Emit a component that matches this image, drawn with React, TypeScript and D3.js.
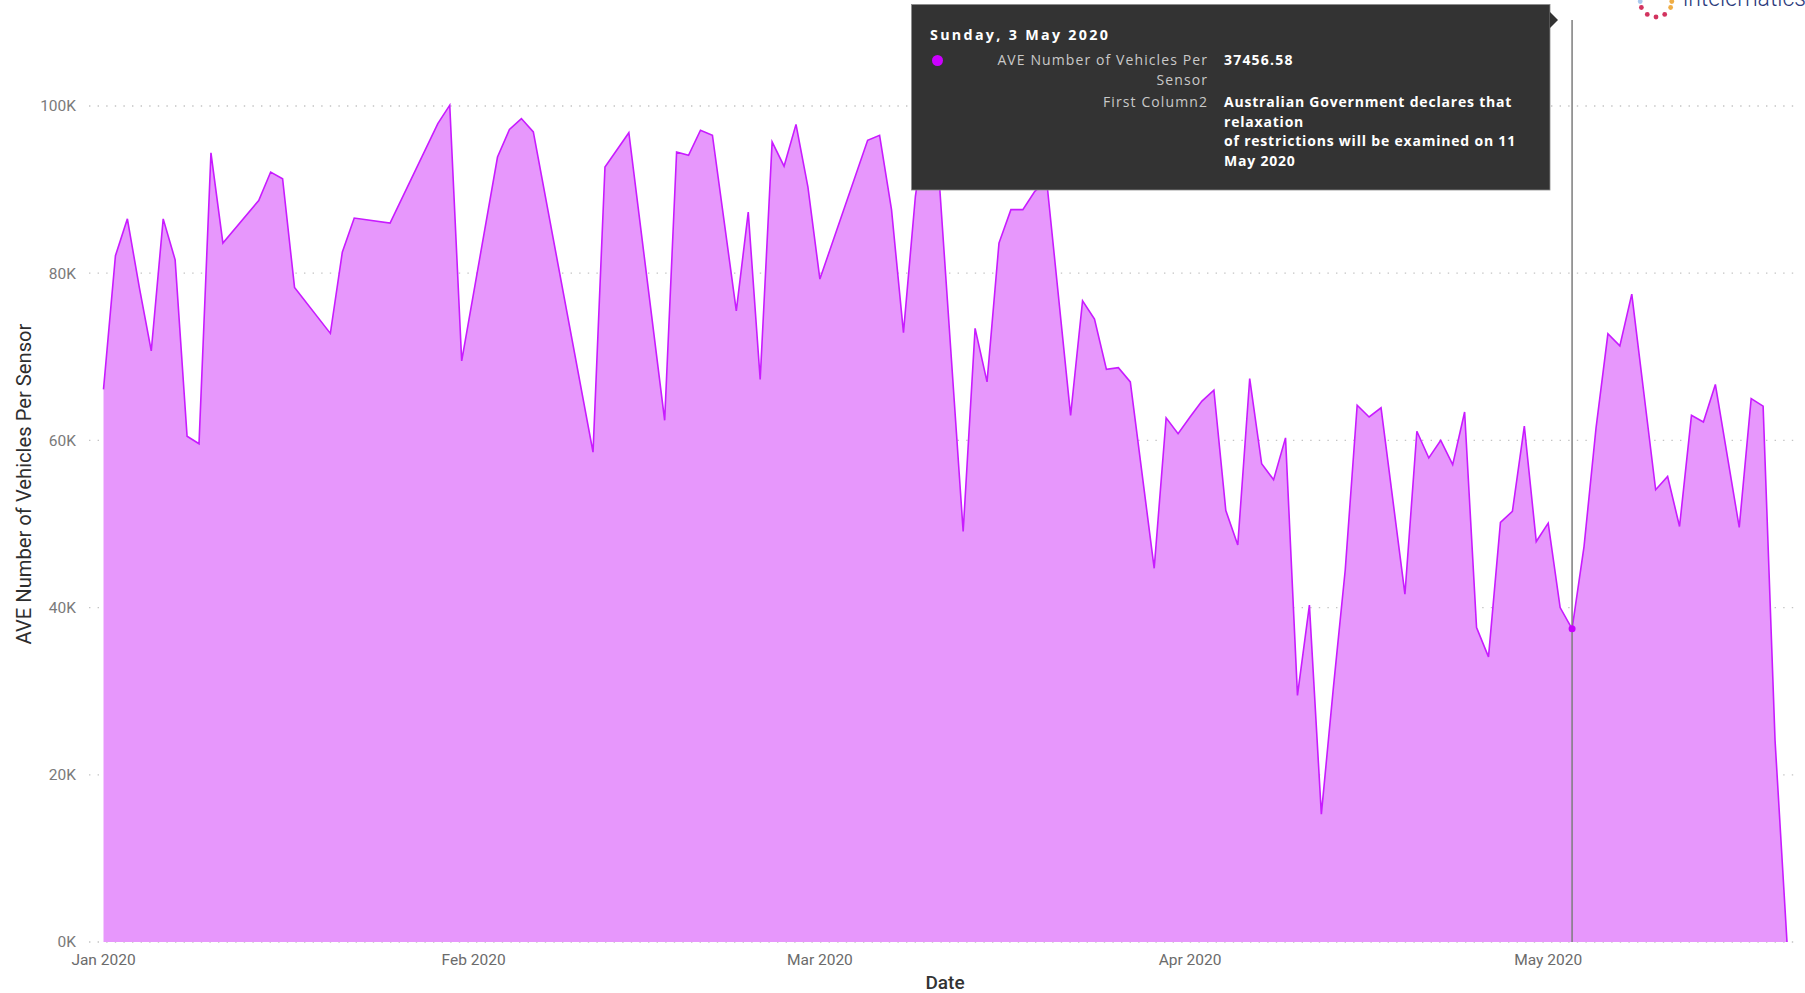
import { useEffect, useRef } from "react";
import * as d3 from "d3";

// daily averages, days with no reading are simply absent (the area joins across them)
const dates = [
  "2020-01-01", "2020-01-02", "2020-01-03", "2020-01-04", "2020-01-05", "2020-01-06", "2020-01-07",
  "2020-01-08", "2020-01-09", "2020-01-10", "2020-01-11", "2020-01-14", "2020-01-15", "2020-01-16",
  "2020-01-17", "2020-01-20", "2020-01-21", "2020-01-22", "2020-01-25", "2020-01-29", "2020-01-30",
  "2020-01-31", "2020-02-03", "2020-02-04", "2020-02-05", "2020-02-06", "2020-02-11", "2020-02-12",
  "2020-02-14", "2020-02-17", "2020-02-18", "2020-02-19", "2020-02-20", "2020-02-21", "2020-02-23",
  "2020-02-24", "2020-02-25", "2020-02-26", "2020-02-27", "2020-02-28", "2020-02-29", "2020-03-01",
  "2020-03-05", "2020-03-06", "2020-03-07", "2020-03-08", "2020-03-09", "2020-03-10", "2020-03-11",
  "2020-03-13", "2020-03-14", "2020-03-15", "2020-03-16", "2020-03-17", "2020-03-18", "2020-03-19",
  "2020-03-20", "2020-03-22", "2020-03-23", "2020-03-24", "2020-03-25", "2020-03-26", "2020-03-27",
  "2020-03-29", "2020-03-30", "2020-03-31", "2020-04-01", "2020-04-02", "2020-04-03", "2020-04-04",
  "2020-04-05", "2020-04-06", "2020-04-07", "2020-04-08", "2020-04-09", "2020-04-10", "2020-04-11",
  "2020-04-12", "2020-04-13", "2020-04-14", "2020-04-15", "2020-04-16", "2020-04-17", "2020-04-19",
  "2020-04-20", "2020-04-21", "2020-04-22", "2020-04-23", "2020-04-24", "2020-04-25", "2020-04-26",
  "2020-04-27", "2020-04-28", "2020-04-29", "2020-04-30", "2020-05-01", "2020-05-02", "2020-05-03",
  "2020-05-04", "2020-05-05", "2020-05-06", "2020-05-07", "2020-05-08", "2020-05-10", "2020-05-11",
  "2020-05-12", "2020-05-13", "2020-05-14", "2020-05-15", "2020-05-17", "2020-05-18", "2020-05-19",
  "2020-05-20", "2020-05-21",
];

const vehicles = [
  66100, 82100, 86500, 78300, 70700, 86500, 81600,
  60500, 59600, 94400, 83600, 88700, 92100, 91300,
  78300, 72800, 82500, 86600, 86000, 97900, 100100,
  69500, 93900, 97200, 98500, 96900, 58600, 92700,
  96800, 62400, 94500, 94100, 97100, 96500, 75500,
  87300, 67300, 95700, 92800, 97800, 90300, 79300,
  95900, 96500, 87600, 72900, 89200, 99000, 91000,
  49100, 73400, 67000, 83600, 87600, 87600, 89800,
  91000, 63000, 76700, 74500, 68500, 68700, 67000,
  44700, 62700, 60800, 62800, 64700, 66000, 51600,
  47500, 67400, 57200, 55300, 60300, 29500, 40300,
  15300, 30300, 44500, 64200, 62800, 63900, 41600,
  61100, 57900, 60000, 57100, 63400, 37600, 34100,
  50200, 51500, 61700, 47900, 50100, 40000, 37456.58,
  47300, 61400, 72750, 71300, 77500, 54100, 55700,
  49700, 63000, 62200, 66700, 49600, 65000, 64100,
  24100, 0,
];

const monthTicks = ["2020-01-01", "2020-02-01", "2020-03-01", "2020-04-01", "2020-05-01"];
const monthLabels = ["Jan 2020", "Feb 2020", "Mar 2020", "Apr 2020", "May 2020"];
const yTicks = [0, 20000, 40000, 60000, 80000, 100000];
const yLabels = ["0K", "20K", "40K", "60K", "80K", "100K"];

const hoverDate = "2020-05-03";
const tooltipTitle = "Sunday, 3 May 2020";
const tooltipLabels = ["AVE Number of Vehicles Per", "Sensor", "First Column2"];
const tooltipValue = "37456.58";
const tooltipNote = [
  "Australian Government declares that",
  "relaxation",
  "of restrictions will be examined on 11",
  "May 2020",
];

const logoDots = ["#a9c9ef", "#d2335f", "#d2335f", "#d2335f", "#d2335f", "#efad45", "#efad45"];

const W = 1805;
const H = 993;
const FONT = "Roboto, 'Segoe UI', sans-serif";
const TIP_FONT = "'Open Sans', 'Segoe UI', sans-serif";

export default function App() {
  const ref = useRef<SVGSVGElement>(null);

  useEffect(() => {
    if (!ref.current) return;
    const svg = d3.select(ref.current);
    svg.selectAll("*").remove();

    const parse = d3.utcParse("%Y-%m-%d");
    const data = dates.map((d, i) => ({ date: parse(d) as Date, value: vehicles[i] }));

    const x = d3
      .scaleUtc()
      .domain([parse(monthTicks[0]) as Date, parse(monthTicks[4]) as Date])
      .range([103.5, 1548.2]);
    const y = d3.scaleLinear().domain([0, 100000]).range([942, 106]);

    svg.append("rect").attr("width", W).attr("height", H).attr("fill", "#fff");

    // dotted gridlines
    svg
      .append("g")
      .selectAll("line")
      .data(yTicks)
      .join("line")
      .attr("x1", 89)
      .attr("x2", 1800)
      .attr("y1", d => y(d))
      .attr("y2", d => y(d))
      .attr("stroke", "#c4c4c4")
      .attr("stroke-width", 1.3)
      .attr("stroke-dasharray", "1.4 7.2");

    const area = d3
      .area<{ date: Date; value: number }>()
      .x(d => x(d.date))
      .y0(y(0))
      .y1(d => y(d.value));
    const line = d3
      .line<{ date: Date; value: number }>()
      .x(d => x(d.date))
      .y(d => y(d.value));

    svg.append("path").datum(data).attr("d", area).attr("fill", "#e797fc");
    svg
      .append("path")
      .datum(data)
      .attr("d", line)
      .attr("fill", "none")
      .attr("stroke", "#c81bff")
      .attr("stroke-width", 1.6)
      .attr("stroke-linejoin", "miter");

    // y tick labels
    svg
      .append("g")
      .selectAll("text")
      .data(yTicks)
      .join("text")
      .attr("x", 76)
      .attr("y", d => y(d))
      .attr("dy", "0.35em")
      .attr("text-anchor", "end")
      .attr("font-family", FONT)
      .attr("font-size", 15.5)
      .attr("fill", "#7a7a7a")
      .text((d, i) => yLabels[i]);

    // x tick labels
    svg
      .append("g")
      .selectAll("text")
      .data(monthTicks)
      .join("text")
      .attr("x", d => x(parse(d) as Date))
      .attr("y", 965)
      .attr("text-anchor", "middle")
      .attr("font-family", FONT)
      .attr("font-size", 15.5)
      .attr("fill", "#6b6b6b")
      .text((d, i) => monthLabels[i]);

    svg
      .append("text")
      .attr("transform", "translate(24,484) rotate(-90)")
      .attr("text-anchor", "middle")
      .attr("dominant-baseline", "central")
      .attr("font-family", FONT)
      .attr("font-size", 20.2)
      .attr("fill", "#2e2e2e")
      .text("AVE Number of Vehicles Per Sensor");

    svg
      .append("text")
      .attr("x", 945)
      .attr("y", 982)
      .attr("text-anchor", "middle")
      .attr("dominant-baseline", "central")
      .attr("font-family", FONT)
      .attr("font-size", 19)
      .attr("font-weight", 500)
      .attr("fill", "#333")
      .text("Date");

    // hover cursor
    const hd = parse(hoverDate) as Date;
    const hv = vehicles[dates.indexOf(hoverDate)];
    svg
      .append("line")
      .attr("x1", x(hd))
      .attr("x2", x(hd))
      .attr("y1", 20)
      .attr("y2", y(0))
      .attr("stroke", "#7d7d7d")
      .attr("stroke-width", 1.5);
    svg.append("circle").attr("cx", x(hd)).attr("cy", y(hv)).attr("r", 3.5).attr("fill", "#c800ff");

    // tooltip
    const tip = svg.append("g");
    tip
      .append("rect")
      .attr("x", 911.5)
      .attr("y", 4.5)
      .attr("width", 638.5)
      .attr("height", 185.5)
      .attr("fill", "#333333")
      .attr("stroke", "#8a8a8a")
      .attr("stroke-width", 0.8);
    tip.append("path").attr("d", "M1550,12 L1558,20 L1550,28 Z").attr("fill", "#333333");
    tip
      .append("text")
      .attr("x", 930)
      .attr("y", 39.5)
      .attr("font-family", TIP_FONT)
      .attr("font-size", 14.3)
      .attr("font-weight", 700)
      .attr("letter-spacing", 2.3)
      .attr("fill", "#fff")
      .text(tooltipTitle);
    tip.append("circle").attr("cx", 937.5).attr("cy", 60.5).attr("r", 5.5).attr("fill", "#cc00ff");
    tip
      .selectAll("text.lbl")
      .data(tooltipLabels)
      .join("text")
      .attr("class", "lbl")
      .attr("x", 1208)
      .attr("y", (d, i) => [65, 85, 107][i])
      .attr("text-anchor", "end")
      .attr("font-family", TIP_FONT)
      .attr("font-size", 14)
      .attr("letter-spacing", 1.1)
      .attr("fill", "#c9c9c9")
      .text(d => d);
    tip
      .append("text")
      .attr("x", 1224)
      .attr("y", 65)
      .attr("font-family", TIP_FONT)
      .attr("font-size", 14)
      .attr("font-weight", 700)
      .attr("letter-spacing", 1.2)
      .attr("fill", "#fff")
      .text(tooltipValue);
    tip
      .selectAll("text.note")
      .data(tooltipNote)
      .join("text")
      .attr("class", "note")
      .attr("x", 1224)
      .attr("y", (d, i) => 107 + i * 19.6)
      .attr("font-family", TIP_FONT)
      .attr("font-size", 14)
      .attr("font-weight", 700)
      .attr("letter-spacing", 0.8)
      .attr("fill", "#fff")
      .text(d => d);

    // logo, cut by the top edge as in the original screenshot
    const logo = svg.append("g");
    const arc = d3.range(logoDots.length).map(i => {
      const a = Math.PI * (1.05 - (i / (logoDots.length - 1)) * 1.1);
      return [1656 + 16 * Math.cos(a), -1 + 16 * Math.sin(a) * -1 + 0];
    });
    logo
      .selectAll("circle")
      .data(logoDots)
      .join("circle")
      .attr("cx", (d, i) => arc[i][0])
      .attr("cy", (d, i) => Math.abs(arc[i][1]))
      .attr("r", 2.4)
      .attr("fill", d => d);
    logo
      .append("text")
      .attr("x", 1683)
      .attr("y", 6)
      .attr("font-family", FONT)
      .attr("font-size", 23)
      .attr("font-weight", 300)
      .attr("fill", "#2b3a7c")
      .text("intelematics");
  }, []);

  return (
    <svg
      ref={ref}
      width={W}
      height={H}
      viewBox={`0 0 ${W} ${H}`}
      style={{ position: "absolute", left: 0, top: 0, display: "block" }}
    />
  );
}
